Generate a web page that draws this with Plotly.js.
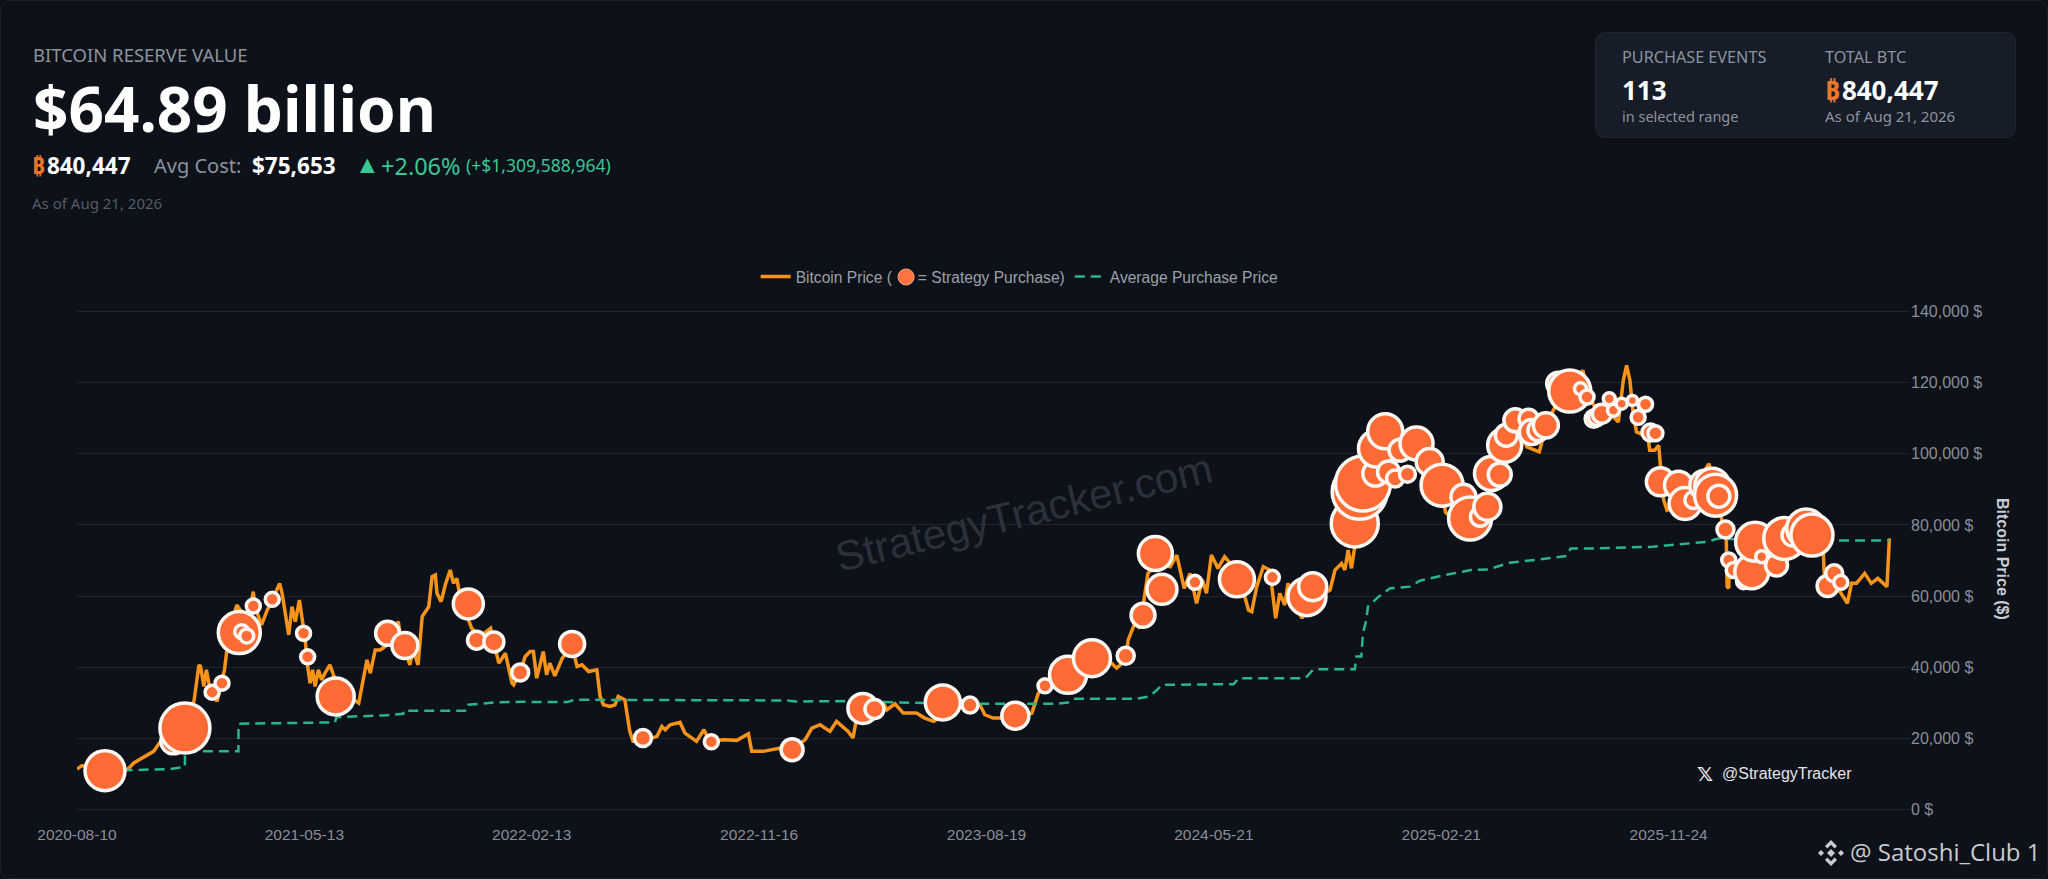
<!DOCTYPE html>
<html>
<head>
<meta charset="utf-8">
<title>Bitcoin Reserve Value</title>
<script src="https://cdn.plot.ly/plotly-3.0.1.min.js"></script>
<style>
html, body {margin:0; padding:0; background:#0d111a; width:2048px; height:879px; overflow:hidden;}
body {position:relative; font-family:'Noto Sans', sans-serif; color:#fff;}
#frame {position:absolute; left:0; top:0; width:2046px; height:877px; border:1px solid #1a212c; border-radius:10px;}
#chart {position:absolute; left:0; top:0; width:2048px; height:879px;}
.t {position:absolute; white-space:nowrap; line-height:1;}
.b {font-weight:700;}
.grey {color:#8d939e;}
.btc {color:#e8762c; font-weight:700; margin-right:2px;}
.up {color:#3ac793;}
#card {position:absolute; left:1595px; top:32px; width:419px; height:104px; background:#161c28; border:1px solid #1f2632; border-radius:10px;}
</style>
</head>
<body>
<div id="frame"></div>
<div id="chart"></div>

<div class="t grey" style="left:33px;top:46px;font-size:18.5px">BITCOIN RESERVE VALUE</div>
<div class="t b" style="left:33px;top:77px;font-size:62px">$64.89 billion</div>
<div class="t" style="left:32px;top:155px;font-size:22.5px"><span class="btc">₿</span><span class="b">840,447</span></div>
<div class="t grey" style="left:154px;top:156px;font-size:20px">Avg Cost:</div>
<div class="t b" style="left:252px;top:155px;font-size:22.5px">$75,653</div>
<div class="t up" style="left:355px;top:151px;font-size:25px">▲</div>
<div class="t up" style="left:381px;top:155px;font-size:23.5px">+2.06%</div>
<div class="t up" style="left:466px;top:157px;font-size:17.5px">(+$1,309,588,964)</div>
<div class="t" style="left:32px;top:196px;font-size:15px;color:#555b67">As of Aug 21, 2026</div>

<div id="card"></div>
<div class="t grey" style="left:1622px;top:49px;font-size:16.2px">PURCHASE EVENTS</div>
<div class="t b" style="left:1622px;top:77px;font-size:26px">113</div>
<div class="t grey" style="left:1622px;top:109px;font-size:14.5px">in selected range</div>
<div class="t grey" style="left:1825px;top:49px;font-size:16.2px">TOTAL BTC</div>
<div class="t" style="left:1825px;top:77px;font-size:26px"><span class="btc">₿</span><span class="b">840,447</span></div>
<div class="t grey" style="left:1825px;top:109px;font-size:15px">As of Aug 21, 2026</div>

<svg style="position:absolute;left:1817px;top:839px" width="28" height="28" viewBox="0 0 28 28">
<g fill="#c9cbd0">
<path d="M14 1l6 6-2.4 2.4L14 5.800 10.400 9.400 8 7z"/>
<path d="M14 27l6-6-2.400-2.400L14 22.200l-3.600-3.600L8 21z"/>
<path d="M1 14l3-3 3 3-3 3z"/>
<path d="M27 14l-3-3-3 3 3 3z"/>
<path d="M14 10l4 4-4 4-4-4z"/>
</g>
</svg>
<div class="t" style="left:1850px;top:840px;font-size:24px;color:#c9cbd0;font-family:'Open Sans',sans-serif">@ Satoshi_Club 1</div>

<script>
// Axis labels (days are counted from the first tick, 2020-08-10).
var tickDays = [0, 276, 552, 828, 1104, 1380, 1656, 1932];
var tickDates = ['2020-08-10', '2021-05-13', '2022-02-13', '2022-11-16', '2023-08-19', '2024-05-21', '2025-02-21', '2025-11-24'];

// Bitcoin price.
var priceDays = [0,6,16,36,61,69,77,85,93,100,121,142,148,150,154,157,160,164,170,179,182,190,194,198,208,214,216,224,231,237,246,249,253,257,261,265,270,273,277,280,283,286,289,293,297,301,307,312,324,342,348,352,356,362,368,374,382,390,392,404,408,414,419,427,431,435,437,442,447,453,457,461,465,479,489,502,512,520,528,530,538,544,550,554,558,566,570,574,580,589,601,607,613,621,631,635,639,647,653,657,665,671,675,687,704,710,714,720,732,738,752,761,768,785,801,815,819,833,854,868,884,892,902,914,922,936,942,946,953,971,979,983,993,1003,1019,1029,1040,1052,1072,1096,1102,1112,1120,1139,1159,1167,1175,1203,1232,1256,1262,1273,1276,1284,1290,1296,1300,1311,1327,1335,1341,1344,1351,1359,1366,1371,1377,1385,1393,1400,1412,1422,1426,1432,1440,1448,1455,1460,1466,1470,1478,1487,1499,1521,1527,1535,1539,1543,1547,1551,1553,1561,1586,1602,1626,1642,1659,1661,1683,1711,1719,1735,1748,1760,1775,1784,1792,1808,1828,1833,1845,1865,1871,1877,1881,1885,1889,1893,1907,1909,1915,1920,1922,1926,1930,1950,1966,1981,1986,1996,2002,2003,2005,2006,2023,2039,2067,2095,2119,2120,2121,2128,2140,2149,2154,2160,2170,2178,2186,2197,2200];
var priceValues = [11400,12340,11690,10750,11220,13090,14210,15430,16360,18700,23370,30390,40670,40200,34600,39270,35530,32730,30390,39270,44880,54230,57500,56100,54230,61240,57030,51890,56100,58900,63580,60780,55170,49090,57030,52830,58900,54230,47690,40200,35530,39270,34600,39270,36460,38330,40670,37400,32730,29920,37400,42070,38330,44880,44880,45810,49550,52830,49550,40670,44880,40670,54230,57030,65450,65920,60780,58440,63110,67320,63580,64980,59840,50960,48620,50960,41140,43950,35530,35060,38520,43010,44410,44410,36930,44410,37870,41140,37590,42540,45815,40200,40670,38800,39270,31790,29450,28990,29450,31790,30850,21970,19170,19170,20570,23380,22440,23840,24500,21500,19170,22440,19170,19640,19450,21320,16360,16360,17300,16830,19640,22910,23840,21970,24780,21970,20100,25240,28990,29920,29920,28050,29730,27120,27120,25710,24780,26650,28990,29450,26650,25710,25710,25245,27115,32725,34600,37400,41140,41140,39740,42070,47685,52360,50960,59840,66385,69190,68250,71530,65450,62180,66385,57970,64515,60775,71530,67790,71060,69190,64515,56100,55630,62650,68250,67320,53760,60775,57500,63580,57970,53760,58905,61710,67320,69190,67320,72930,67790,73865,86955,96300,107525,100980,102850,96300,86955,83680,78540,85085,94435,102850,108460,101915,100510,108460,112200,118745,123420,116875,112200,110330,108930,120615,124820,120615,111265,106120,104720,100980,100980,102380,96770,86955,84150,86000,91630,97240,92565,82280,75730,62645,62180,71995,66385,70125,72930,76670,75730,71060,65450,63580,61240,57970,63580,63580,66385,63580,64980,62645,76200];

// Average purchase price, it only moves after a purchase.
var avgDays = [36,75,113,131,131,196,196,313,315,372,396,396,473,475,506,538,595,601,611,862,872,930,1030,1104,1189,1203,1209,1286,1302,1311,1317,1404,1410,1491,1501,1551,1553,1559,1561,1565,1567,1580,1594,1618,1630,1658,1692,1713,1739,1776,1808,1813,1845,1913,1960,1979,1992,2008,2139,2192,2200];
var avgValues = [10900,11220,11410,11970,16360,16360,24120,24500,26000,26460,26930,27770,27770,29450,30100,30290,30200,30670,30850,30670,30390,30480,29920,29730,29730,30110,31135,31135,31790,33660,35060,35250,36930,36930,39460,39460,43010,43010,49560,53290,57035,59840,62180,62650,64325,65800,67320,67500,69380,70310,71250,73400,73400,73865,74800,75270,76200,76015,75653,75653,75653];

// Strategy purchases, the amount sets the area of the bubble.
var purchaseDays = [34,117,131,164,176,197,200,206,214,237,275,280,314,377,398,475,485,506,538,601,687,770,868,954,968,1051,1084,1139,1175,1203,1232,1273,1294,1309,1317,1357,1408,1451,1493,1500,1551,1557,1561,1576,1578,1588,1592,1600,1606,1615,1626,1642,1657,1683,1691,1703,1712,1717,1727,1733,1735,1746,1762,1766,1774,1783,1798,1812,1825,1833,1841,1845,1851,1860,1865,1875,1888,1896,1902,1904,1895,1910,1916,1922,1944,1952,1962,1976,1985,1989,1993,2001,2005,2011,2023,2033,2037,2045,2063,2073,2083,2099,2106,2125,2133,2141];
var purchasePrices = [10940,19170,22910,33000,35530,49740,50000,48800,57220,59090,49560,42920,31790,49560,46100,57800,47590,47120,38520,46560,20100,19070,16830,28420,28240,30110,29360,26370,34780,37870,42540,43200,54600,71995,61900,63860,64700,65265,59840,62650,80410,89290,91630,94435,101450,106310,94900,93030,100980,94250,102850,97700,91160,87890,81810,82280,85085,94435,94150,102380,105190,109395,109860,106120,106590,107990,119680,117620,118280,115940,109860,110330,111265,115470,112200,114070,115000,110330,113790,113900,110240,106000,105750,92100,91160,86020,87000,91160,91000,88360,88080,78730,70125,67320,64050,66850,75270,71060,68720,76200,77140,79000,77140,62830,66385,63860];
var purchaseBtc = [16000,6250,25000,1960,1960,17640,1960,1960,1960,1960,1960,1960,13690,5760,6760,9000,3240,4000,2890,6250,2890,1960,4840,9000,3610,12250,2560,7290,1960,13690,13690,2890,5760,11560,9000,1960,12250,1960,14440,7840,22090,30250,30250,6250,13690,12250,4840,2890,4840,2560,10890,7290,17640,6250,18490,3610,7290,11560,5290,11560,4840,5290,3610,6250,4410,6250,5290,17640,1440,1960,2890,2890,3610,1440,1440,1210,1000,1210,1440,1960,1960,2890,2250,7840,7840,10240,2890,9000,12250,17640,4840,2890,1960,2250,1960,11560,15210,1440,4840,17640,4840,15210,17640,4410,2890,1960];

var tick_color = '#8a8e97';
var grid_color = '#1e2430';
var bubble_scale = 20;

var price_trace = {
x: priceDays,
y: priceValues,
mode: 'lines',
// The gap in the name holds the little purchase bubble, see shapes below.
name: 'Bitcoin Price (\u00A0\u00A0\u00A0\u00A0\u00A0\u00A0= Strategy Purchase)',
line: {color: '#f7931a', width: 3.5}
};

var avg_trace = {
x: avgDays,
y: avgValues,
mode: 'lines',
name: 'Average Purchase Price',
line: {color: '#2bb58f', width: 2.5, dash: '10px,6px'}
};

var purchase_trace = {
x: purchaseDays,
y: purchasePrices,
mode: 'markers',
showlegend: false,
marker: {
size: purchaseBtc,
sizemode: 'area',
sizeref: bubble_scale,
color: '#ff6b35',
opacity: 1,
line: {color: '#fdf8f3', width: 3.5}
}
};

var layout = {
width: 2048,
height: 879,
paper_bgcolor: 'rgba(0,0,0,0)',
plot_bgcolor: 'rgba(0,0,0,0)',
margin: {l: 77, r: 138, t: 310, b: 68},
font: {family: 'Liberation Sans, Arial, sans-serif', color: tick_color, size: 15},
xaxis: {
range: [0, 2225],
tickmode: 'array',
tickvals: tickDays,
ticktext: tickDates,
showgrid: false,
zeroline: false,
showline: false,
ticks: 'outside',
ticklen: 9,
tickcolor: 'rgba(0,0,0,0)',
tickangle: 0,
tickfont: {size: 15.5}
},
yaxis: {
side: 'right',
// a little slack on both ends, plotly drops a gridline that sits on the edge
range: [-400, 140400],
tick0: 0,
dtick: 20000,
tickformat: ',d',
ticksuffix: ' $',
tickfont: {size: 16},
gridcolor: grid_color,
gridwidth: 1,
zeroline: true,
zerolinecolor: grid_color,
zerolinewidth: 1,
showline: false
},
legend: {
orientation: 'h',
x: 0.514,
xanchor: 'center',
xref: 'paper',
y: 1.0659,
yanchor: 'middle',
font: {size: 15.6, color: '#9ca0a8'},
itemwidth: 30
},
shapes: [
{
type: 'circle',
xref: 'paper', yref: 'paper',
x0: 0.4479, x1: 0.4567,
y0: 1.0499, y1: 1.0819,
fillcolor: '#ff7440',
line: {color: '#f3a27c', width: 1}
}
],
annotations: [
{
text: 'StrategyTracker.com',
xref: 'paper', yref: 'paper',
x: 0.5165, y: 0.595,
xanchor: 'center', yanchor: 'middle',
textangle: -13.6,
showarrow: false,
font: {size: 42, color: '#2c303a'}
},
{
text: 'Bitcoin Price ($)',
xref: 'paper', yref: 'paper',
x: 1.0502, y: 0.503,
xanchor: 'center', yanchor: 'middle',
textangle: 90,
showarrow: false,
font: {size: 16, color: '#c9ccd2', weight: 700}
},
{
text: '𝕏',
xref: 'paper', yref: 'paper',
x: 0.888, y: 0.0739,
xanchor: 'center', yanchor: 'middle',
showarrow: false,
font: {size: 20, color: '#f2f2f2', family: 'DejaVu Sans', weight: 700}
},
{
text: '@StrategyTracker',
xref: 'paper', yref: 'paper',
x: 0.9329, y: 0.0739,
xanchor: 'center', yanchor: 'middle',
showarrow: false,
font: {size: 16, color: '#e4e5e8'}
}
]
};

var config = {displayModeBar: false, responsive: false};
Plotly.newPlot('chart', [price_trace, avg_trace, purchase_trace], layout, config);
</script>
</body>
</html>
